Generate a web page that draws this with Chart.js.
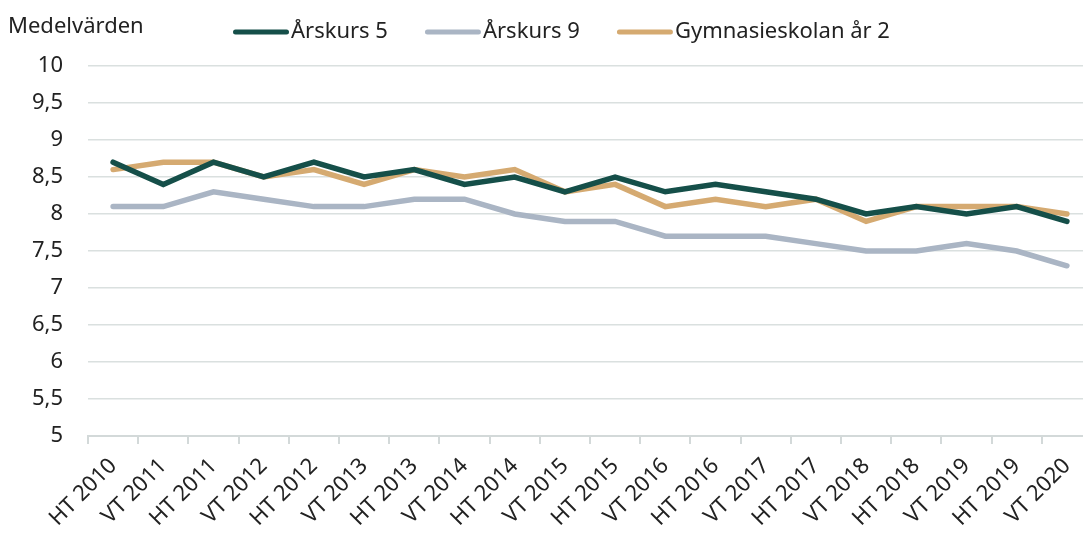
<!DOCTYPE html>
<html>
<head>
<meta charset="utf-8">
<script src="https://cdn.jsdelivr.net/npm/chart.js@4.4.1/dist/chart.umd.min.js"></script>
<style>
html,body{margin:0;padding:0;overflow:hidden;background:#fff;}
#wrap{position:relative;width:1100px;height:533px;}
</style>
</head>
<body>
<div id="wrap"><canvas id="c"></canvas></div>
<script>
const categories = ["HT 2010","VT 2011","HT 2011","VT 2012","HT 2012","VT 2013","HT 2013","VT 2014","HT 2014","VT 2015","HT 2015","VT 2016","HT 2016","VT 2017","HT 2017","VT 2018","HT 2018","VT 2019","HT 2019","VT 2020"];
const arskurs5 = [8.7,8.4,8.7,8.5,8.7,8.5,8.6,8.4,8.5,8.3,8.5,8.3,8.4,8.3,8.2,8.0,8.1,8.0,8.1,7.9];
const arskurs9 = [8.1,8.1,8.3,8.2,8.1,8.1,8.2,8.2,8.0,7.9,7.9,7.7,7.7,7.7,7.6,7.5,7.5,7.6,7.5,7.3];
const gymnasie = [8.6,8.7,8.7,8.5,8.6,8.4,8.6,8.5,8.6,8.3,8.4,8.1,8.2,8.1,8.2,7.9,8.1,8.1,8.1,8.0];
const seriesNames = ["Årskurs 5","Årskurs 9","Gymnasieskolan år 2"];
const yTitle = "Medelvärden";

const FONT = "'Noto Sans', 'Open Sans', sans-serif";
const FSIZE = 22;
const TXT = "#222";

const overlayPlugin = {
  id: 'overlay',
  afterDraw(chart){
    const ctx = chart.ctx;
    ctx.save();
    ctx.font = FSIZE + "px " + FONT;
    ctx.fillStyle = TXT;
    ctx.textBaseline = 'middle';
    ctx.textAlign = 'left';
    ctx.fillText(yTitle, 8, 27);
    // legend
    let x = 233;
    const y = 32;
    chart.data.datasets.forEach(d => {
      ctx.strokeStyle = d.borderColor;
      ctx.lineWidth = 5;
      ctx.lineCap = 'round';
      ctx.beginPath();
      ctx.moveTo(x + 2.5, y);
      ctx.lineTo(x + 53.5, y);
      ctx.stroke();
      ctx.fillStyle = TXT;
      ctx.fillText(d.label, x + 58, y);
      x += 58 + ctx.measureText(d.label).width + 37;
    });
    ctx.restore();
  }
};

function ds(label, data, color){
  return {label, data, borderColor: color, backgroundColor: color, borderWidth: 5.5,
    pointRadius: 0, pointHoverRadius: 0, tension: 0, borderCapStyle: 'round', borderJoinStyle: 'miter'};
}

new Chart(document.getElementById('c'), {
  type: 'line',
  data: {
    labels: categories,
    datasets: [
      ds(seriesNames[0], arskurs5, '#154f49'),
      ds(seriesNames[1], arskurs9, '#aab5c4'),
      ds(seriesNames[2], gymnasie, '#d5aa71')
    ]
  },
  options: {
    responsive: true,
    maintainAspectRatio: false,
    animation: false,
    layout: {padding: {left: 0, right: 8, top: 66, bottom: 0}},
    plugins: {
      tooltip: {enabled: false},
      legend: {display: false}
    },
    scales: {
      x: {
        offset: true,
        afterFit(scale){ scale.height = 97; },
        grid: {display: true, drawOnChartArea: false, drawTicks: true, tickLength: 8, color: '#d3d9d9', lineWidth: 2, offset: true},
        border: {display: true, color: '#d3d9d9', width: 2},
        ticks: {font: {family: FONT, size: FSIZE}, color: TXT, minRotation: 45, maxRotation: 45, autoSkip: false, padding: 9}
      },
      y: {
        min: 5, max: 10,
        afterFit(scale){ scale.width = 88; },
        grid: {color: '#dae0df', lineWidth: 1.5, drawTicks: false},
        border: {display: false},
        ticks: {stepSize: 0.5, font: {family: FONT, size: FSIZE}, color: TXT, padding: 25,
          callback: v => String(v).replace('.', ',')}
      }
    }
  },
  plugins: [overlayPlugin]
});
</script>
</body>
</html>
